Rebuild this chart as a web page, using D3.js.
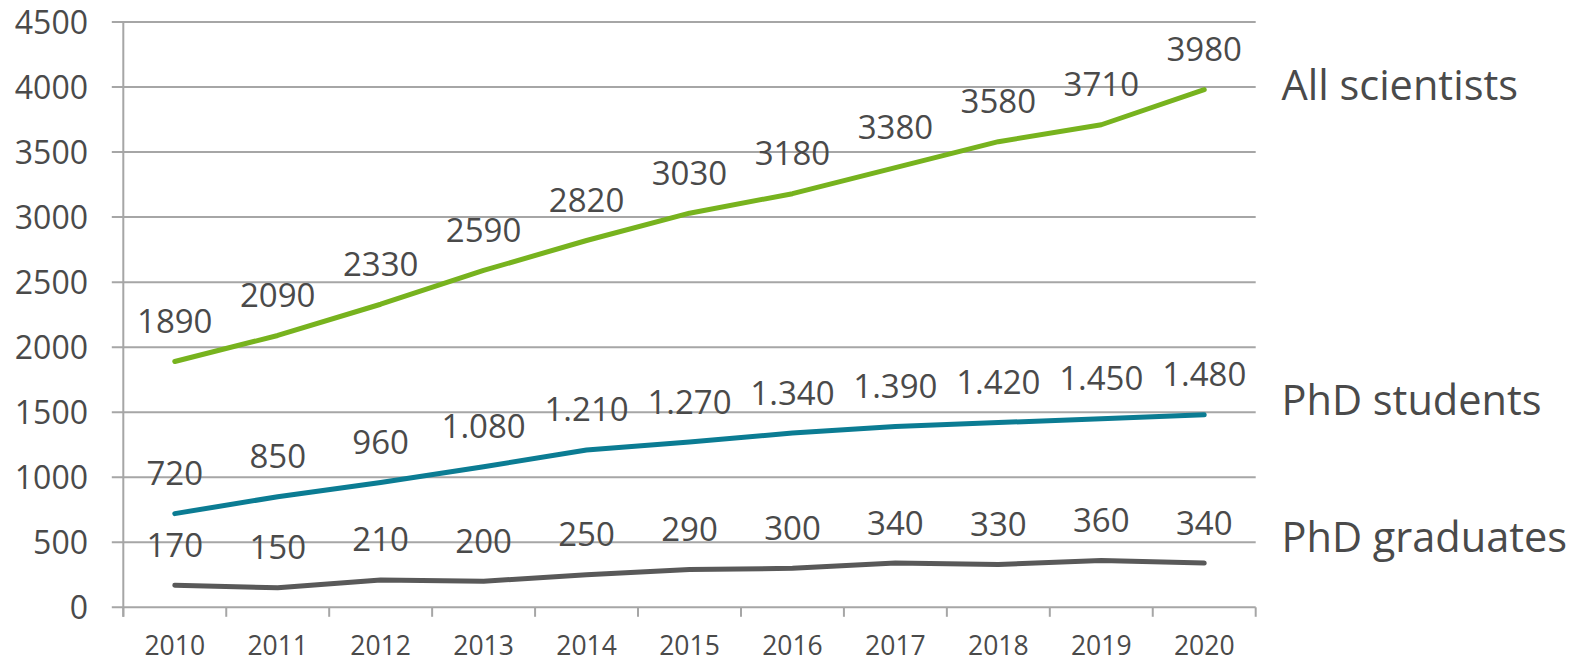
<!DOCTYPE html>
<html>
<head>
<meta charset="utf-8">
<script src="https://cdn.jsdelivr.net/npm/d3@7"></script>
<style>
  html, body { margin: 0; padding: 0; background: #fff; }
  svg { display: block; }
  text { font-family: "Open Sans", "Noto Sans", sans-serif; fill: #4a4a4a; }
</style>
</head>
<body>
<svg id="chart" width="1581" height="662"></svg>
<script>
const years = ["2010","2011","2012","2013","2014","2015","2016","2017","2018","2019","2020"];
const allScientists = [1890,2090,2330,2590,2820,3030,3180,3380,3580,3710,3980];
const phdStudents = [720,850,960,1080,1210,1270,1340,1390,1420,1450,1480];
const phdGraduates = [170,150,210,200,250,290,300,340,330,360,340];
const yTicks = [0,500,1000,1500,2000,2500,3000,3500,4000,4500];
const seriesNames = ["All scientists","PhD students","PhD graduates"];
const seriesColors = ["#77b31e","#0b7c93","#595959"];

const series = [allScientists, phdStudents, phdGraduates].map((v, i) => ({
  name: seriesNames[i], color: seriesColors[i], values: v
}));

const svg = d3.select("#chart");
const pLeft = 123.3, pRight = 1255.7, pTop = 22, pBottom = 607.3;

const x = d3.scaleBand().domain(years).range([pLeft, pRight]);
const y = d3.scaleLinear().domain([0, 4500]).range([pBottom, pTop]);

// gridlines
svg.append("g")
  .selectAll("line")
  .data(yTicks)
  .join("line")
  .attr("x1", pLeft - 11.5)
  .attr("x2", pRight)
  .attr("y1", d => y(d))
  .attr("y2", d => y(d))
  .attr("stroke", "#a6a6a6")
  .attr("stroke-width", 2);

// y axis line
svg.append("line")
  .attr("x1", pLeft).attr("x2", pLeft)
  .attr("y1", pTop).attr("y2", pBottom + 9.5)
  .attr("stroke", "#a6a6a6").attr("stroke-width", 2);

// y tick labels
svg.append("g")
  .selectAll("text")
  .data(yTicks)
  .join("text")
  .attr("x", 88)
  .attr("y", d => y(d) + 11.5)
  .attr("text-anchor", "end")
  .attr("font-size", 32)
  .text(d => d);

// x ticks
const tickXs = years.map(d => x(d)).concat([pRight]);
svg.append("g")
  .selectAll("line")
  .data(tickXs)
  .join("line")
  .attr("x1", d => d).attr("x2", d => d)
  .attr("y1", pBottom).attr("y2", pBottom + 9.5)
  .attr("stroke", "#a6a6a6").attr("stroke-width", 2);

// x labels
svg.append("g")
  .selectAll("text")
  .data(years)
  .join("text")
  .attr("x", d => x(d) + x.bandwidth() / 2)
  .attr("y", 654.5)
  .attr("text-anchor", "middle")
  .attr("font-size", 26.5)
  .text(d => d);

const line = d3.line()
  .x((d, i) => x(years[i]) + x.bandwidth() / 2)
  .y(d => y(d));

// lines
svg.append("g")
  .selectAll("path")
  .data(series)
  .join("path")
  .attr("d", d => line(d.values))
  .attr("fill", "none")
  .attr("stroke", d => d.color)
  .attr("stroke-width", 5)
  .attr("stroke-linecap", "round")
  .attr("stroke-linejoin", "round");

// data labels
series.forEach((s, si) => {
  svg.append("g")
    .selectAll("text")
    .data(s.values)
    .join("text")
    .attr("x", (d, i) => x(years[i]) + x.bandwidth() / 2)
    .attr("y", d => y(d) - 28.5)
    .attr("text-anchor", "middle")
    .attr("font-size", 33)
    .text(d => si === 1 ? d3.format(",")(d).replace(",", ".") : String(d));
});

// series labels
const seriesLabelY = [100, 415, 551.7];
svg.append("g")
  .selectAll("text")
  .data(series)
  .join("text")
  .attr("x", 1281.5)
  .attr("y", (d, i) => seriesLabelY[i])
  .attr("font-size", 41.5)
  .text(d => d.name);
</script>
</body>
</html>
